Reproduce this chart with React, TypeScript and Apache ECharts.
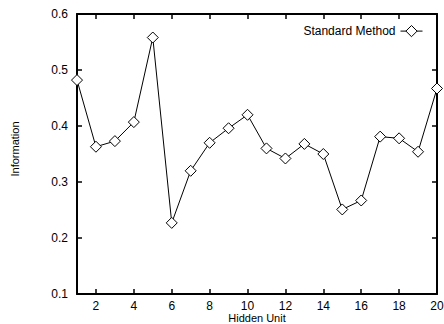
import React, { useEffect, useRef } from "react";
import * as echarts from "echarts";

const hiddenUnits: string[] = Array.from({ length: 20 }, (_, i) => String(i + 1));
const standardMethod: number[] = [
  0.482, 0.363, 0.373, 0.407, 0.558, 0.227, 0.32, 0.37, 0.396, 0.42,
  0.36, 0.342, 0.368, 0.35, 0.251, 0.267, 0.381, 0.378, 0.354, 0.467,
];
const yMin = 0.1;
const yMax = 0.6;
const yStep = 0.1;
const seriesName = "Standard Method";
const xName = "Hidden Unit";
const yName = "Information";

const FONT = "Liberation Sans, Arial, Helvetica, sans-serif";

export default function App() {
  const ref = useRef<HTMLDivElement>(null);
  useEffect(() => {
    if (!ref.current) return;
    const chart = echarts.init(ref.current, undefined, { renderer: "svg" });
    const evenIdx = (i: number) => (i + 1) % 2 === 0;
    const axisLine = { show: true, lineStyle: { color: "#000", width: 2 } };
    const tick = { show: true, inside: true, length: 5, lineStyle: { color: "#000", width: 1.5 } };
    chart.setOption({
      animation: false,
      backgroundColor: "#fff",
      textStyle: { fontFamily: FONT, color: "#000" },
      grid: {
        left: 77,
        right: 7,
        top: 14,
        bottom: 30,
        containLabel: false,
        outerBoundsMode: "none",
      },
      legend: {
        show: true,
        right: 16,
        top: 20,
        align: "right",
        itemWidth: 22,
        itemHeight: 14,
        itemGap: 5,
        lineStyle: { width: 1, color: "#000" },
        itemStyle: { borderWidth: 1, borderColor: "#000", color: "#fff" },
        textStyle: { fontFamily: FONT, fontSize: 12, color: "#000" },
        data: [seriesName],
      },
      xAxis: [
        {
          type: "category",
          data: hiddenUnits,
          boundaryGap: false,
          position: "bottom",
          axisLine,
          axisTick: { ...tick, interval: (i: number) => evenIdx(i) },
          axisLabel: {
            interval: (i: number) => evenIdx(i),
            fontFamily: FONT,
            fontSize: 12,
            lineHeight: 11,
            color: "#000",
            margin: 6,
          },
          splitLine: { show: false },
          name: xName,
          nameLocation: "middle",
          nameGap: 19,
          nameMoveOverlap: false,
          nameTextStyle: { fontFamily: FONT, fontSize: 11, lineHeight: 10, color: "#000" },
        },
        {
          type: "category",
          data: hiddenUnits,
          boundaryGap: false,
          position: "top",
          axisLine,
          axisTick: { ...tick, interval: (i: number) => evenIdx(i) },
          axisLabel: { show: false },
          splitLine: { show: false },
        },
      ],
      yAxis: [
        {
          type: "value",
          min: yMin,
          max: yMax,
          interval: yStep,
          position: "left",
          axisLine,
          axisTick: tick,
          axisLabel: {
            formatter: (v: number) => v.toFixed(1),
            fontFamily: FONT,
            fontSize: 12,
            color: "#000",
            margin: 9,
          },
          splitLine: { show: false },
          name: yName,
          nameLocation: "middle",
          nameGap: 57,
          nameMoveOverlap: false,
          nameTextStyle: { fontFamily: FONT, fontSize: 11, color: "#000", padding: [0, 0, 0, 10] },
        },
        {
          type: "value",
          min: yMin,
          max: yMax,
          interval: yStep,
          position: "right",
          axisLine,
          axisTick: tick,
          axisLabel: { show: false },
          splitLine: { show: false },
        },
      ],
      series: [
        {
          name: seriesName,
          type: "line",
          data: standardMethod,
          xAxisIndex: 0,
          yAxisIndex: 0,
          symbol: "diamond",
          symbolSize: 11,
          showAllSymbol: true,
          lineStyle: { color: "#000", width: 1 },
          itemStyle: { color: "#fff", borderColor: "#000", borderWidth: 1 },
        },
      ],
    });
    return () => chart.dispose();
  }, []);
  return (
    <div
      ref={ref}
      style={{ position: "fixed", left: 0, top: 0, width: 444, height: 324 }}
    />
  );
}
